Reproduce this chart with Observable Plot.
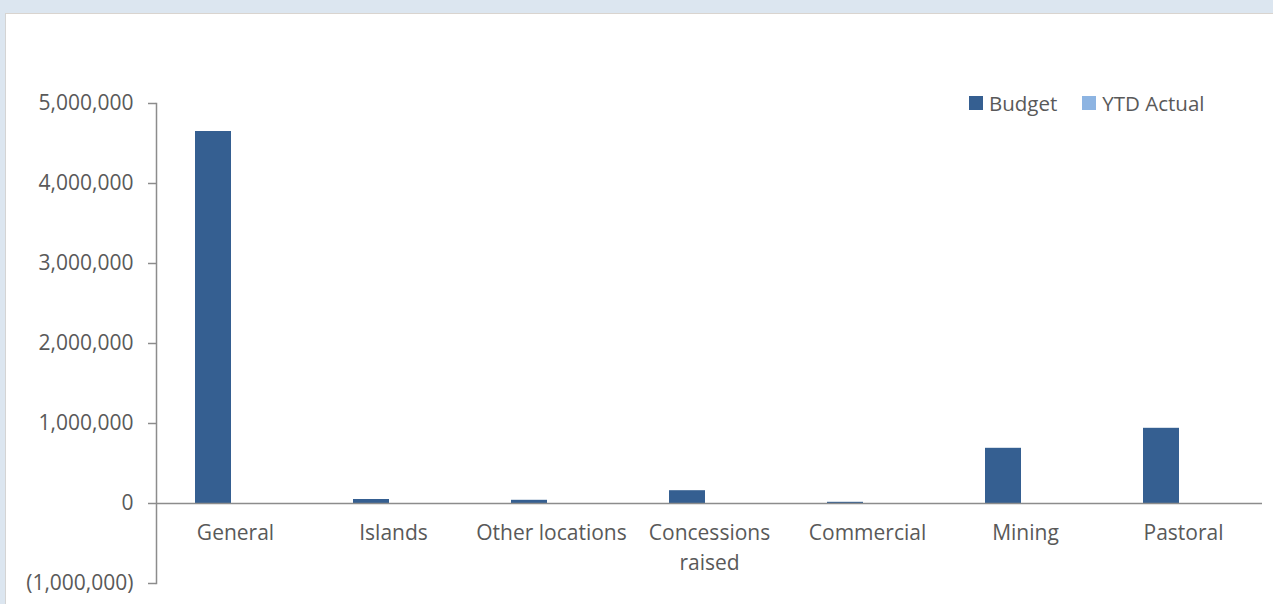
<!DOCTYPE html>
<html>
<head>
<meta charset="utf-8">
<script src="https://cdn.jsdelivr.net/npm/d3@7"></script>
<script src="https://cdn.jsdelivr.net/npm/@observablehq/plot@0.6"></script>
<style>
  html, body { margin: 0; padding: 0; background: #dce6f0; width: 1273px; height: 604px; overflow: hidden; }
  #panel { position: absolute; left: 5px; top: 13px; width: 1268px; height: 591px; background: #fff; border-left: 1px solid #d4d4d4; border-top: 1px solid #d9d4cf; box-sizing: border-box; font-family: "Open Sans", sans-serif; }
  #chart { position: absolute; left: -1px; top: -1px; }
  #legend { position: absolute; left: 963px; top: 75px; display: flex; align-items: center; font-size: 20.5px; color: #595959; font-family: "Open Sans", sans-serif; }
  .item { display: flex; align-items: center; margin-right: 25px; }
  .sw { width: 14px; height: 14px; margin-right: 6px; }
</style>
</head>
<body>
<div id="panel"><div id="chart"></div><div id="legend"></div></div>
<script>
const categories = ["General", "Islands", "Other locations", "Concessions raised", "Commercial", "Mining", "Pastoral"];
const budget = [4650000, 50000, 40000, 160000, 15000, 690000, 940000];
const ytdActual = [0, 0, 0, 0, 0, 0, 0];
const series = ["Budget", "YTD Actual"];
const colors = ["#355f91", "#8db4e2"];
const yTicks = [-1000000, 0, 1000000, 2000000, 3000000, 4000000, 5000000];

const budgetRows = categories.map((c, i) => ({category: c, value: budget[i]}));
const ytdRows = categories.map((c, i) => ({category: c, value: ytdActual[i]}));

const fmt = d3.format(",");
const tickFmt = v => v < 0 ? "(" + fmt(-v) + ")" : fmt(v);

const axisColor = "#8c8c8c";
const textColor = "#595959";

const chart = Plot.plot({
  width: 1268,
  height: 591,
  marginLeft: 151,
  marginRight: 11,
  marginTop: 90,
  marginBottom: 21,
  style: {fontFamily: "Open Sans, sans-serif", fontSize: "21px", color: textColor, background: "transparent"},
  x: {domain: categories, padding: 0, axis: null},
  y: {domain: [-1000000, 5000000], axis: null},
  marks: [
    Plot.barY(budgetRows, {x: "category", y: "value", fill: colors[0], insetLeft: 39, insetRight: 83}),
    Plot.barY(ytdRows, {x: "category", y: "value", fill: colors[1], insetLeft: 84, insetRight: 38}),
    Plot.frame({anchor: "left", stroke: axisColor, strokeWidth: 1.5}),
    Plot.ruleY([0], {stroke: axisColor, strokeWidth: 1.5}),
    Plot.axisY({ticks: yTicks, tickFormat: tickFmt, tickSize: 8, tickPadding: 15, stroke: axisColor, strokeWidth: 1.5, fill: textColor, fontSize: 21, label: null}),
    Plot.text(categories, {x: d => d, y: 0, text: d => d, dy: 15, lineAnchor: "top", lineWidth: 8, lineHeight: 1.43, fill: textColor, fontSize: 21})
  ]
});
document.getElementById("chart").appendChild(chart);

const legend = document.getElementById("legend");
series.forEach((s, i) => {
  const item = document.createElement("div");
  item.className = "item";
  const sw = document.createElement("div");
  sw.className = "sw";
  sw.style.background = colors[i];
  const t = document.createElement("span");
  t.textContent = s;
  item.appendChild(sw);
  item.appendChild(t);
  legend.appendChild(item);
});
</script>
</body>
</html>
